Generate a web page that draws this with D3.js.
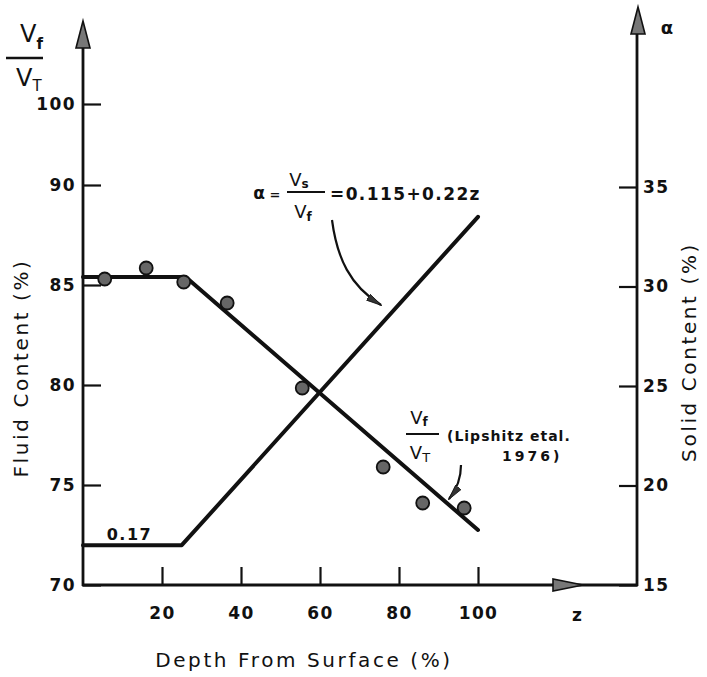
<!DOCTYPE html>
<html>
<head>
<meta charset="utf-8">
<script src="https://cdn.jsdelivr.net/npm/d3@7"></script>
<style>
  html, body { margin: 0; padding: 0; background: #fff; }
  svg { display: block; }
  text { font-family: "DejaVu Sans", sans-serif; fill: #111; }
</style>
</head>
<body>
<script>
// ---------------- data ----------------
const xTicks = [20, 40, 60, 80, 100];
const leftTicks = [70, 75, 80, 85, 90, 100];
const rightTicks = [15, 20, 25, 30, 35];

// measured fluid content points (V_f / V_T, %)
const pointDepth = [5.5, 16, 25.5, 36.5, 55.5, 76, 86, 96.5];
const pointFluid = [85.3, 85.85, 85.15, 84.1, 79.85, 75.9, 74.1, 73.85];

// fitted fluid content line (left axis)
const fluidLineDepth = [0, 26, 100];
const fluidLineValue = [85.4, 85.4, 72.75];

// alpha = Vs/Vf line (right axis, solid content %)
const alphaDepth = [0, 25, 100];
const alphaValue = [17, 17, 33.5];

// ---------------- setup ----------------
const W = 707, H = 677;
const svg = d3.select("body").append("svg").attr("width", W).attr("height", H);

const x = d3.scaleLinear().domain([0, 100]).range([83, 478]);
// left axis: broken upper part (90 -> 100 compressed)
const yL = d3.scaleLinear().domain([70, 90, 100]).range([585, 185, 104]);
const yR = d3.scaleLinear().domain([15, 35]).range([585, 187]);
const xRight = 637;
const ink = "#111";

const defs = svg.append("defs");
defs.append("marker")
  .attr("id", "ah").attr("viewBox", "0 0 16 8").attr("refX", 15).attr("refY", 4)
  .attr("markerWidth", 16).attr("markerHeight", 8).attr("markerUnits", "userSpaceOnUse")
  .attr("orient", "auto")
  .append("path").attr("d", "M0,0.5 L16,4 L0,7.5 Z").attr("fill", "#333").attr("stroke", ink).attr("stroke-width", 0.8);

// ---------------- axes ----------------
const axisStyle = g => {
  g.select(".domain").remove();
  g.selectAll(".tick line").attr("stroke", ink).attr("stroke-width", 2.2);
  g.selectAll(".tick text").attr("font-size", 17).attr("font-weight", "bold")
    .attr("letter-spacing", 1.4).attr("fill", ink);
};

svg.append("g").attr("transform", `translate(${x(0)},0)`)
  .call(d3.axisLeft(yL).tickValues(leftTicks).tickSizeInner(-18).tickSizeOuter(0).tickPadding(7).tickFormat(d3.format("d")))
  .call(axisStyle);

svg.append("g").attr("transform", `translate(${xRight},0)`)
  .call(d3.axisRight(yR).tickValues(rightTicks).tickSizeInner(-18).tickSizeOuter(0).tickPadding(6).tickFormat(d3.format("d")))
  .call(axisStyle);

svg.append("g").attr("transform", `translate(0,${yL(70)})`)
  .call(d3.axisBottom(x).tickValues(xTicks).tickSizeInner(-18).tickSizeOuter(0).tickPadding(22).tickFormat(d3.format("d")))
  .call(axisStyle);

// axis lines
const axisLines = svg.append("g").attr("stroke", ink).attr("stroke-width", 2.8).attr("fill", "none");
axisLines.append("line").attr("x1", x(0)).attr("x2", x(0)).attr("y1", yL(70) + 1).attr("y2", 44);
axisLines.append("line").attr("x1", xRight).attr("x2", xRight).attr("y1", yR(15) + 1).attr("y2", 30);
axisLines.append("line").attr("x1", x(0) - 1).attr("x2", xRight + 1).attr("y1", yL(70)).attr("y2", yL(70));

// arrow heads
const heads = svg.append("g").attr("fill", "#777").attr("stroke", ink).attr("stroke-width", 1.6);
heads.append("path").attr("d", `M${x(0)},21 L${x(0) + 7},48 L${x(0) - 7},48 Z`);
heads.append("path").attr("d", `M${xRight + 1},7 L${xRight + 8},34 L${xRight - 6},34 Z`);
heads.append("path").attr("d", `M583,${yL(70)} L553,${yL(70) - 6} L553,${yL(70) + 6} Z`);

// axis end labels
svg.append("text").attr("x", 577).attr("y", 621).attr("text-anchor", "middle")
  .attr("font-size", 17).attr("font-weight", "bold").text("z");
svg.append("text").attr("x", 667).attr("y", 34).attr("text-anchor", "middle")
  .attr("font-size", 18).attr("font-weight", "bold").text("α");

// V_f / V_T at top left
const vtop = svg.append("g");
vtop.append("text").attr("x", 20).attr("y", 42).attr("font-size", 24).text("V")
  .append("tspan").attr("font-size", 15).attr("font-weight", "bold").attr("dy", 7).text("f");
vtop.append("line").attr("x1", 6).attr("x2", 43).attr("y1", 58).attr("y2", 58).attr("stroke", ink).attr("stroke-width", 2.5);
vtop.append("text").attr("x", 16).attr("y", 86).attr("font-size", 24).text("V")
  .append("tspan").attr("font-size", 15).attr("dy", 5).text("T");

// axis titles
svg.append("text").attr("transform", "translate(28,368) rotate(-90)").attr("text-anchor", "middle")
  .attr("font-size", 20).attr("letter-spacing", 2.6).text("Fluid Content (%)");
svg.append("text").attr("transform", "translate(696,352) rotate(-90)").attr("text-anchor", "middle")
  .attr("font-size", 20).attr("letter-spacing", 2.6).text("Solid Content (%)");
svg.append("text").attr("x", 304).attr("y", 667).attr("text-anchor", "middle")
  .attr("font-size", 20).attr("letter-spacing", 2.6).text("Depth From Surface (%)");

// ---------------- lines ----------------
const alphaPts = alphaDepth.map((d, i) => [x(d), yR(alphaValue[i])]);
const fluidPts = fluidLineDepth.map((d, i) => [x(d), yL(fluidLineValue[i])]);
const lineGen = d3.line();
svg.append("path").attr("d", lineGen(alphaPts)).attr("fill", "none").attr("stroke", ink)
  .attr("stroke-width", 4).attr("stroke-linejoin", "round").attr("stroke-linecap", "round");
svg.append("path").attr("d", lineGen(fluidPts)).attr("fill", "none").attr("stroke", ink)
  .attr("stroke-width", 4).attr("stroke-linejoin", "round").attr("stroke-linecap", "round");

// points
svg.append("g").selectAll("circle").data(pointDepth).join("circle")
  .attr("cx", d => x(d)).attr("cy", (d, i) => yL(pointFluid[i])).attr("r", 6.5)
  .attr("fill", "#666").attr("stroke", ink).attr("stroke-width", 1.8);

// ---------------- annotations ----------------
svg.append("text").attr("x", x(6)).attr("y", 540).attr("font-size", 16).attr("font-weight", "bold")
  .attr("letter-spacing", 1.5).text("0.17");

// alpha formula
const fg = svg.append("g").attr("font-weight", "bold");
fg.append("text").attr("x", 259).attr("y", 199).attr("text-anchor", "middle").attr("font-size", 17).text("α");
fg.append("text").attr("x", 275).attr("y", 199).attr("text-anchor", "middle").attr("font-size", 13).text("=");
fg.append("line").attr("x1", 287).attr("x2", 325).attr("y1", 192).attr("y2", 192).attr("stroke", ink).attr("stroke-width", 2);
fg.append("text").attr("x", 299).attr("y", 186).attr("text-anchor", "middle").attr("font-size", 18).attr("font-weight", "normal").text("V")
  .append("tspan").attr("font-size", 12).attr("font-weight", "bold").attr("dy", 2).text("s");
fg.append("text").attr("x", 303).attr("y", 218).attr("text-anchor", "middle").attr("font-size", 18).attr("font-weight", "normal").text("V")
  .append("tspan").attr("font-size", 12).attr("font-weight", "bold").attr("dy", 3).text("f");
fg.append("text").attr("x", 330).attr("y", 200).attr("font-size", 17).attr("letter-spacing", 1.4).text("=0.115+0.22z");
svg.append("path").attr("d", "M332,220 C337,258 350,286 381,305").attr("fill", "none")
  .attr("stroke", ink).attr("stroke-width", 2.2).attr("marker-end", "url(#ah)");

// Lipshitz annotation
const lg = svg.append("g");
lg.append("text").attr("x", 419).attr("y", 424).attr("text-anchor", "middle").attr("font-size", 18).text("V")
  .append("tspan").attr("font-size", 12).attr("font-weight", "bold").attr("dy", 2).text("f");
lg.append("line").attr("x1", 406).attr("x2", 439).attr("y1", 434).attr("y2", 434).attr("stroke", ink).attr("stroke-width", 2);
lg.append("text").attr("x", 420).attr("y", 459).attr("text-anchor", "middle").attr("font-size", 18).text("V")
  .append("tspan").attr("font-size", 13).attr("dy", 3).text("T");
lg.append("text").attr("x", 447).attr("y", 441).attr("font-size", 14).attr("font-weight", "bold")
  .attr("letter-spacing", 1).text("(Lipshitz etal.");
lg.append("text").attr("x", 502).attr("y", 461).attr("font-size", 14).attr("font-weight", "bold")
  .attr("letter-spacing", 3).text("1976)");
svg.append("path").attr("d", "M461,465 C461,478 457,489 449,499").attr("fill", "none")
  .attr("stroke", ink).attr("stroke-width", 2.2).attr("marker-end", "url(#ah)");
</script>
</body>
</html>
